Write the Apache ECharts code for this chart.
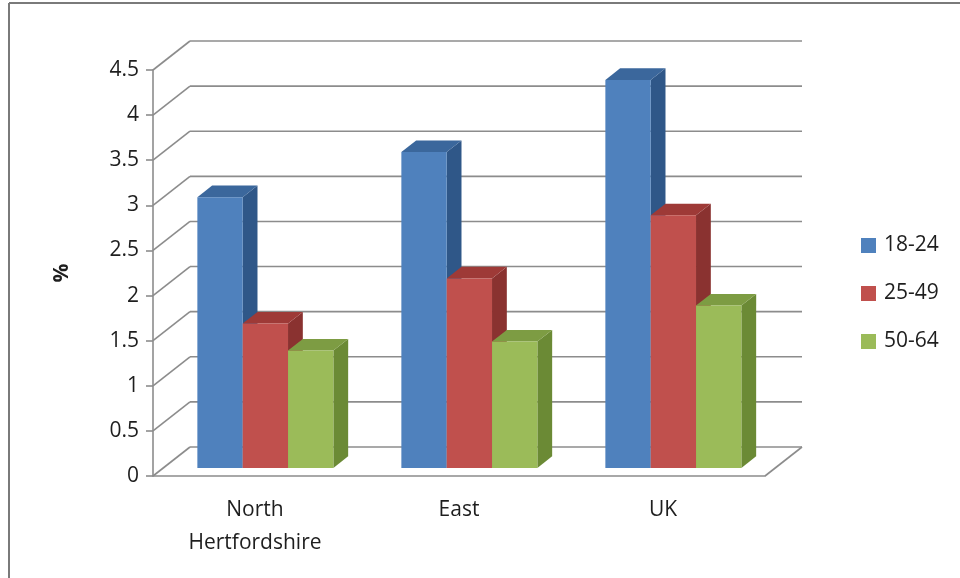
<!DOCTYPE html>
<html>
<head>
    <meta charset="utf-8">
    <title>Age groups</title>
    <script src="https://cdn.jsdelivr.net/npm/echarts@6/dist/echarts.min.js"></script>
    <style>
        html, body { margin: 0; padding: 0; background: #fff; }
        #chart { width: 960px; height: 578px; }
    </style>
</head>
<body>
<div id="chart"></div>
<script type="text/javascript">

var categories = ['North\nHertfordshire', 'East', 'UK'];
var seriesNames = ['18-24', '25-49', '50-64'];
var values1824 = [3.0, 3.5, 4.3];
var values2549 = [1.6, 2.1, 2.8];
var values5064 = [1.3, 1.4, 1.8];
var yTicks = [0, 0.5, 1, 1.5, 2, 2.5, 3, 3.5, 4, 4.5];

// perspective offset of the back wall, in pixels
var DX = 37, DY = -29;
// bars sit between these depth fractions
var T0 = 0.28, T1 = 0.68;

var faces = [
    {front: '#4f81bd', side: '#2f5788', top: '#3b679c'},
    {front: '#c0504d', side: '#8a3230', top: '#9e3a37'},
    {front: '#9bbb59', side: '#6b8a35', top: '#7d9c43'}
];

function wallItem(params, api) {
    var v = api.value(0);
    var band = api.size([1, 0])[0];
    var left = api.coord([0, v]);
    var right = api.coord([categories.length - 1, v]);
    var xl = left[0] - band / 2, xr = right[0] + band / 2, y = left[1];
    var st = {stroke: '#8c8c8c', lineWidth: 1.6};
    var kids = [
        {type: 'line', shape: {x1: xl, y1: y, x2: xl + DX, y2: y + DY}, style: st},
        {type: 'line', shape: {x1: xl + DX, y1: y + DY, x2: xr + DX, y2: y + DY}, style: st}
    ];
    if (v === 0) {
        kids.push({type: 'line', shape: {x1: xr, y1: y, x2: xr + DX, y2: y + DY}, style: st});
    }
    return {type: 'group', children: kids};
}

function barRenderer(s) {
    return function (params, api) {
        var cat = api.value(0), val = api.value(1);
        var band = api.size([1, 0])[0];
        var bw = band / 4.5;
        var base = api.coord([cat, 0]);
        var topP = api.coord([cat, val]);
        var x0 = base[0] - band / 2 + 0.75 * bw + s * bw + T0 * DX;
        var x1 = x0 + bw;
        var yb = base[1] + T0 * DY;
        var yt = topP[1] + T0 * DY;
        var ddx = (T1 - T0) * DX, ddy = (T1 - T0) * DY;
        var f = faces[s];
        return {
            type: 'group',
            children: [
                {type: 'polygon', shape: {points: [[x1, yb], [x1 + ddx, yb + ddy], [x1 + ddx, yt + ddy], [x1, yt]]},
                    style: {fill: f.side}},
                {type: 'polygon', shape: {points: [[x0, yt], [x1, yt], [x1 + ddx, yt + ddy], [x0 + ddx, yt + ddy]]},
                    style: {fill: f.top}},
                {type: 'rect', shape: {x: x0, y: yt, width: bw, height: yb - yt},
                    style: {fill: f.front}}
            ]
        };
    };
}

function pairs(arr) {
    var out = [];
    for (var i = 0; i < arr.length; i++) out.push([i, arr[i]]);
    return out;
}

var allValues = [values1824, values2549, values5064];
var series = [{
    type: 'custom',
    name: 'walls',
    renderItem: wallItem,
    data: yTicks.map(function (v) { return [v]; }),
    encode: {y: 0},
    silent: true,
    z: 1
}];
for (var s = 0; s < 3; s++) {
    series.push({
        type: 'custom',
        name: seriesNames[s],
        renderItem: barRenderer(s),
        data: pairs(allValues[s]),
        encode: {x: 0, y: 1},
        itemStyle: {color: faces[s].front},
        z: 2 + s
    });
}

var myChart = echarts.init(document.getElementById('chart'));
var option = {
    backgroundColor: '#ffffff',
    animation: false,
    grid: {left: 153, right: 195, top: 70, bottom: 102},
    legend: {
        data: seriesNames,
        orient: 'vertical',
        left: 856,
        top: 230,
        itemWidth: 15,
        itemHeight: 15,
        itemGap: 27,
        icon: 'rect',
        textStyle: {fontFamily: 'Open Sans', fontSize: 21, color: '#1e1e1e', padding: [0, 0, 0, 3]}
    },
    xAxis: {
        type: 'category',
        data: categories,
        boundaryGap: true,
        axisLine: {lineStyle: {color: '#8c8c8c', width: 1.6}},
        axisTick: {length: 7, lineStyle: {color: '#8c8c8c', width: 1.6}},
        axisLabel: {fontFamily: 'Open Sans', fontSize: 21, color: '#1e1e1e', lineHeight: 33, margin: 18}
    },
    yAxis: {
        type: 'value',
        min: 0,
        max: 4.5,
        interval: 0.5,
        name: '%',
        nameLocation: 'middle',
        nameRotate: 90,
        nameGap: 80,
        nameTextStyle: {fontFamily: 'Open Sans', fontSize: 21, fontWeight: 'bold', color: '#1e1e1e'},
        axisLine: {show: true, lineStyle: {color: '#8c8c8c', width: 1.6}},
        axisTick: {show: true, length: 7, lineStyle: {color: '#8c8c8c', width: 1.6}},
        splitLine: {show: false},
        axisLabel: {fontFamily: 'Open Sans', fontSize: 21, color: '#1e1e1e', margin: 14}
    },
    graphic: [
        {type: 'line', shape: {x1: 9, y1: 3, x2: 960, y2: 3}, style: {stroke: '#7a7a7a', lineWidth: 2}},
        {type: 'line', shape: {x1: 9, y1: 3, x2: 9, y2: 578}, style: {stroke: '#7a7a7a', lineWidth: 2}}
    ],
    series: series
};
myChart.setOption(option);
</script>
</body>
</html>
